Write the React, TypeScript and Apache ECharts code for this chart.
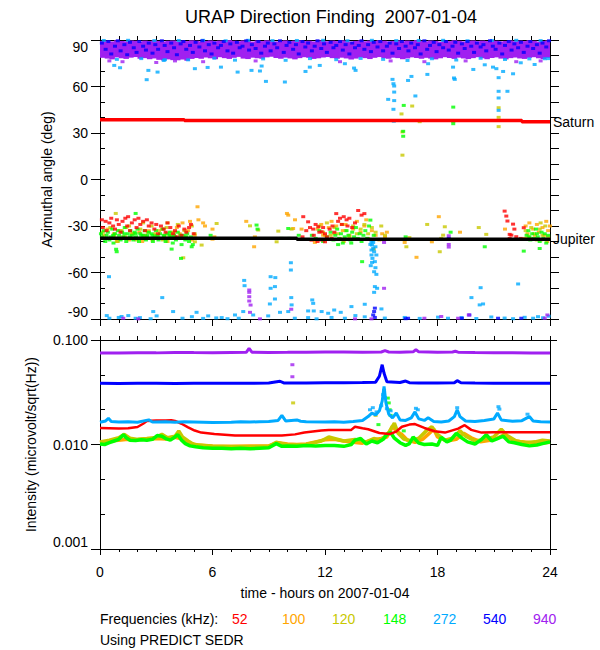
import React, { useEffect, useRef } from "react";
import * as echarts from "echarts";

const FONT = "Liberation Sans";
const TITLE = "URAP Direction Finding  2007-01-04";
const X_NAME = "time - hours on 2007-01-04";
const Y_TOP_NAME = "Azimuthal angle (deg)";
const Y_BOTTOM_NAME = "Intensity (microvolt/sqrt(Hz))";
const FREQ_LABELS = ["52", "100", "120", "148", "272", "540", "940"];
const FREQ_COLORS = ["#ff0000", "#ffa500", "#c8c800", "#00ff00", "#00aaff", "#0000ff", "#a020f0"];
const BAND_STEP = 0.25;

// ---- Direction finding: reference body lines [hour, deg]
const SATURN = [[0, 38.6], [4.5, 38.6], [4.5, 38.0], [22.5, 38.0], [22.5, 37.3], [24, 37.3]];
const JUPITER = [[0, -37.9], [10.5, -37.9], [10.5, -38.6], [24, -38.6]];

// ---- 940 kHz dense band: [hour, lower deg, upper deg]
const BAND_940 = [
  [0, 78.5, 89.3], [0.25, 78, 89.6], [0.5, 77.5, 89.1], [0.75, 78.8, 89.8], [1, 78.2, 89.4], [1.25, 77.8, 89.2],
  [1.5, 78.6, 89.7], [1.75, 79, 89.5], [2, 77.9, 89], [2.25, 78.3, 89.6], [2.5, 77.6, 89.3], [2.75, 78.1, 89.8],
  [3, 77.2, 89.4], [3.25, 76.8, 89.1], [3.5, 77.5, 89.5], [3.75, 77, 89.7], [4, 76.9, 89.2], [4.25, 77.4, 89.6],
  [4.5, 76.6, 89.3], [4.75, 77.8, 89.8], [5, 78.4, 89.5], [5.25, 77.9, 89.1], [5.5, 78.7, 89.4], [5.75, 78.2, 89.7],
  [6, 77.6, 89.2], [6.25, 78.9, 89.6], [6.5, 78.3, 89.3], [6.75, 77.8, 89.9], [7, 78.5, 89.5], [7.25, 79.1, 89.2],
  [7.5, 78, 89.7], [7.75, 77.7, 89.4], [8, 78.6, 89], [8.25, 78.2, 89.6], [8.5, 77.9, 89.3], [8.75, 78.8, 89.8],
  [9, 79.2, 89.5], [9.25, 78.4, 89.1], [9.5, 77.9, 89.4], [9.75, 78.6, 89.7], [10, 78.1, 89.2], [10.25, 77.5, 89.6],
  [10.5, 78.3, 89.8], [10.75, 78.9, 89.3], [11, 78.5, 89.5], [11.25, 77.8, 89.1], [11.5, 78.2, 89.7], [11.75, 78.7, 89.4],
  [12, 79, 89.2], [12.25, 78.3, 89.6], [12.5, 77.9, 89.3], [12.75, 78.6, 89.8], [13, 78.1, 89.5], [13.25, 77.4, 89],
  [13.5, 78, 89.4], [13.75, 78.8, 89.7], [14, 78.3, 89.2], [14.25, 77.7, 89.6], [14.5, 78.5, 89.3], [14.75, 79, 89.8],
  [15, 78.2, 89.5], [15.25, 77.9, 89.1], [15.5, 78.6, 89.4], [15.75, 78.3, 89.7], [16, 77.6, 89.2], [16.25, 78.1, 89.6],
  [16.5, 78.8, 89.3], [16.75, 78.4, 89.9], [17, 77.9, 89.5], [17.25, 78.5, 89.2], [17.5, 78, 89.7], [17.75, 77.5, 89.4],
  [18, 78.2, 89], [18.25, 78.9, 89.6], [18.5, 78.4, 89.3], [18.75, 77.8, 89.8], [19, 78.6, 89.5], [19.25, 78.1, 89.1],
  [19.5, 77.7, 89.4], [19.75, 78.3, 89.7], [20, 78.9, 89.2], [20.25, 78.2, 89.6], [20.5, 77.6, 89.3], [20.75, 78.4, 89.8],
  [21, 78.8, 89.5], [21.25, 78, 89.1], [21.5, 77.5, 89.4], [21.75, 78.3, 89.7], [22, 78.7, 89.2], [22.25, 78.1, 89.6],
  [22.5, 77.8, 89.3], [22.75, 78.5, 89.8], [23, 78.9, 89.5], [23.25, 78.2, 89], [23.5, 77.7, 89.4], [23.75, 78.4, 89.7],
];

// ---- 940 kHz outliers [hour, deg]
const DF_940 = [
  [0.5, 76.5], [1.2, 76], [3.0, 75.5], [4.0, 76.5], [5.5, 76], [8.3, 76.5], [12.8, 76], [15.5, 76.5], [17.3, 76],
  [19.5, 76.5], [22.2, 76], [23.5, 76.5],
  [7.96, -71.3], [7.96, -72.8], [7.96, -75.6], [7.96, -78.4], [8.03, -81], [8.0, -85.7],
  [1.24, -89.5], [2.04, -89.9], [8.53, -89.9], [10.2, -83.7], [15.15, -70.2], [15.15, -40.6], [18.6, -36.3],
  [18.6, -41.9], [18.6, -43.6], [19.67, -87.4], [18.2, -88.4], [14.48, -89.9], [23.72, -89.5], [23.86, -87.4],
  [19.1, -89.5], [17.3, -89.5], [13.6, -89.9],
];

// ---- 540 kHz [hour, deg]
const DF_540 = [
  [0.1, 88], [0.3, 84], [0.45, 89], [0.6, 81], [0.8, 86], [0.95, 89.5], [1.1, 83], [1.3, 87], [1.45, 80.5], [1.6, 88.5],
  [1.8, 85], [1.95, 82], [2.1, 89], [2.3, 86], [2.45, 83.5], [2.6, 88], [2.8, 81.5], [2.95, 87], [3.1, 84], [3.3, 89.5],
  [3.45, 86.5], [3.6, 82.5], [3.8, 88], [3.95, 85], [4.1, 80.5], [4.3, 87.5], [4.45, 89], [4.6, 84], [4.8, 86.5], [4.95, 82],
  [5.1, 88.5], [5.3, 85.5], [5.45, 89.5], [5.6, 83], [5.8, 87], [5.95, 81], [6.1, 88], [6.3, 85], [6.45, 86.5], [6.6, 89],
  [6.8, 83], [6.95, 87.5], [7.1, 81.5], [7.3, 88.5], [7.45, 85], [7.6, 86], [7.8, 89.5], [7.95, 83.5], [8.1, 87], [8.3, 84.5],
  [8.45, 89], [8.6, 81.5], [8.8, 86], [8.95, 88], [9.1, 83], [9.3, 87.5], [9.45, 85], [9.6, 89.5], [9.8, 82], [9.95, 86.5],
  [10.1, 88.5], [10.3, 84], [10.45, 87], [10.6, 81], [10.8, 89], [10.95, 85.5], [11.1, 88], [11.3, 83], [11.45, 86], [11.6, 89.5],
  [11.8, 84.5], [11.95, 87.5], [12.1, 82], [12.3, 88.5], [12.45, 85], [12.6, 86.5], [12.8, 89], [12.95, 83.5], [13.1, 87], [13.3, 81],
  [13.45, 88], [13.6, 85], [13.8, 86.5], [13.95, 89.5], [14.1, 84], [14.3, 87], [14.45, 82.5], [14.6, 88.5], [14.8, 85.5], [14.95, 89],
  [15.1, 83], [15.3, 86], [15.45, 88], [15.6, 81.5], [15.8, 87.5], [15.95, 84.5], [16.1, 89], [16.3, 86], [16.45, 83], [16.6, 88],
  [16.8, 85], [16.95, 87], [17.1, 81], [17.3, 89.5], [17.45, 84], [17.6, 86.5], [17.8, 88.5], [17.95, 82.5], [18.1, 87], [18.3, 85],
  [18.45, 89], [18.6, 83.5], [18.8, 86], [18.95, 88.5], [19.1, 81.5], [19.3, 87.5], [19.45, 84.5], [19.6, 89], [19.8, 86], [19.95, 82],
  [20.1, 88], [20.3, 85.5], [20.45, 87], [20.6, 83], [20.8, 89.5], [20.95, 86], [21.1, 84], [21.3, 88], [21.45, 81], [21.6, 86.5],
  [21.8, 89], [21.95, 83.5], [22.1, 87.5], [22.3, 85], [22.45, 88.5], [22.6, 82], [22.8, 86], [22.95, 89], [23.1, 84.5], [23.3, 87],
  [23.45, 81.5], [23.6, 88], [23.8, 85.5], [23.95, 89.5],
  [14.62, -85.2], [14.57, -87.4], [14.66, -89], [14.66, -83], [18.6, -38], [19.3, -89.5], [19.7, -87.4], [21.23, -89.5],
  [22.47, -89.5], [16.43, -89.5], [16.3, -89.8],
];

// ---- 272 kHz [hour, deg]
const DF_272 = [
  [0.2, 89.7], [0.9, 77.5], [1.5, 89.8], [2.2, 78], [2.9, 89.6], [3.4, 76.8], [4.2, 89.7], [4.7, 77.2], [5.5, 89.8], [6.1, 78.3],
  [6.7, 89.5], [7.2, 77], [7.9, 89.8], [8.7, 77.8], [9.2, 89.6], [9.9, 76.9], [10.5, 89.7], [11.2, 78], [11.9, 89.8], [12.6, 77.3],
  [13.2, 89.5], [13.9, 78.1], [14.5, 89.8], [15.1, 77.5], [15.8, 89.6], [16.4, 76.8], [17.0, 89.7], [17.7, 77.9], [18.3, 89.8],
  [19.0, 77.1], [19.6, 89.5], [20.3, 78.2], [20.9, 89.7], [21.6, 77.4], [22.2, 89.8], [22.9, 77.8], [23.5, 89.6], [23.9, 78],
  [0.76, 73.6], [1.07, 72.1], [2.49, 64.4], [3.07, 69.3], [2.58, 70.4], [3.46, 77.3], [5.06, 71.5], [5.74, 72.3], [6.45, 72.5],
  [7.34, 69.3], [8.08, 70.4], [8.62, 73.2], [8.53, 70.0], [8.85, 63.3], [9.86, 62.9], [10.96, 69.7], [11.19, 72.5], [11.72, 73.6],
  [13.06, 74.7], [13.55, 71.9], [13.63, 70.4], [15.6, 64.6], [15.65, 61.8], [15.69, 60.3], [15.69, 56.4], [15.37, 51.7],
  [15.69, 50.9], [15.65, 45.3], [15.67, 37.6], [16.43, 63.9], [16.61, 66.5], [16.82, 53.9], [17.46, 67.8], [17.5, 74.7],
  [18.83, 72.5], [18.88, 65.5], [18.92, 64.6], [19.91, 71.0], [20.52, 74.0], [20.96, 72.5], [21.14, 71.5], [21.26, 65.7],
  [21.26, 56.9], [21.26, 52.6], [21.26, 44.6], [21.5, 69.7], [21.73, 56.9], [22.03, 68.2], [22.44, 75.3], [23.18, 74.2], [23.72, 77.9],
  [0.48, -62.7], [3.32, -76.2], [7.69, -65.1], [7.71, -68.5], [9.1, -62.7], [9.1, -70.2], [9.35, -63.3], [9.33, -69.1],
  [9.33, -77.1], [9.06, -80.3], [10.18, -53.7], [10.18, -58.4], [10.2, -76.2], [10.22, -80.9], [11.32, -77.7], [11.37, -79.9],
  [11.1, -84.8], [11.4, -84.8], [11.82, -85.2], [2.84, -85.2], [3.9, -85.2], [1.51, -87.8], [0.36, -87.8], [1.15, -88.4],
  [2.13, -89.1], [3.02, -88], [5.15, -85.7], [5.77, -88], [6.49, -89.1], [7.2, -87.4], [7.64, -85.2], [8.17, -87.4],
  [8.97, -88], [9.6, -85.7], [10.04, -85.2], [10.39, -89.5], [11.1, -89.1], [11.55, -89.9], [0.5, -89.5], [1.0, -89],
  [1.9, -89.5], [2.7, -89.8], [4.4, -89.5], [4.9, -88.5], [5.5, -89.6], [6.2, -89.3], [6.8, -89.8], [7.4, -89.5],
  [14.48, -40.2], [14.51, -42.3], [14.57, -44.5], [14.62, -46.6], [14.48, -48.7], [14.53, -50.9], [14.66, -53], [14.44, -55.6],
  [14.69, -56.9], [14.62, -59.5], [14.74, -61.2], [14.66, -69.1], [14.62, -72.8], [14.78, -70.2], [14.42, -41.9], [14.57, -40.6],
  [14.69, -43.4], [14.48, -45.5], [14.74, -48.7], [14.51, -53.5],
  [22.3, -67.4], [20.3, -69.8], [19.81, -76.2], [20.25, -80.9], [20.43, -80.3], [15.01, -83.5], [14.12, -80.5], [13.41, -82],
  [12.84, -85.7], [13.62, -87.8], [12.49, -84.2], [12.17, -86.3],
  [12.35, -89], [13.06, -89.5], [14.12, -88.6], [15.19, -89.4], [16.25, -89], [17.05, -89.6], [18.03, -88.8], [18.56, -89.5],
  [19.28, -89.1], [20.07, -89.7], [20.87, -88.7], [21.58, -89.4], [22.03, -89.8], [22.65, -88.9], [23.1, -89.5], [23.36, -88.5],
  [23.63, -89.2], [23.93, -88.2],
];

// ---- 148 kHz [hour, deg]
const DF_148 = [
  [0.05, -35], [0.12, -38], [0.2, -33], [0.28, -40], [0.35, -36], [0.42, -34], [0.5, -39], [0.58, -37], [0.65, -32], [0.72, -41],
  [0.8, -35], [0.88, -38], [0.95, -33], [1.02, -36], [1.1, -39], [1.18, -34], [1.25, -37], [1.32, -31], [1.4, -40], [1.48, -35],
  [1.55, -38], [1.62, -33], [1.7, -36], [1.78, -39], [1.85, -34], [1.92, -37], [2.0, -32], [2.08, -40], [2.15, -35], [2.22, -38],
  [2.3, -36], [2.38, -33], [2.45, -39], [2.52, -36], [2.6, -34], [2.68, -38], [2.75, -35], [2.82, -40], [2.9, -37], [2.98, -33],
  [3.05, -36], [3.12, -39], [3.2, -35], [3.28, -38], [3.35, -32], [3.42, -37], [3.5, -40], [3.58, -35], [3.65, -38], [3.72, -34],
  [3.8, -37], [3.88, -41], [3.95, -36], [4.05, -39], [4.15, -34], [4.25, -38], [4.35, -42], [4.45, -36], [4.55, -39], [4.65, -35],
  [4.75, -40], [4.85, -37], [4.95, -42], [5.1, -38],
  [0.1, -37], [0.4, -38], [0.7, -36], [1.0, -38], [1.3, -35], [1.6, -37], [1.9, -35], [2.2, -36], [2.5, -37], [2.8, -36],
  [3.1, -37], [3.4, -36], [3.7, -36], [4.0, -37], [4.3, -36], [4.6, -37],
  [0.89, -46.6], [1.9, -21.9], [3.82, -44.9], [4.32, -50.9], [4.89, -43.4], [0.86, -45], [5.9, -36], [8.35, -29.4], [8.4, -32],
  [8.26, -38], [9.68, -38], [10.04, -31.6], [10.1, -38], [10.6, -36],
  [11.3, -36], [11.5, -38], [11.7, -33], [11.9, -40], [12.1, -37], [12.3, -34], [12.45, -39], [12.55, -36], [12.65, -32],
  [12.75, -38], [12.85, -35], [12.95, -41], [13.05, -37], [13.15, -33], [13.25, -36], [13.35, -39], [13.45, -34], [13.55, -37],
  [13.65, -31], [13.75, -38], [13.85, -35], [13.95, -40], [14.05, -36], [14.15, -33], [14.25, -38], [14.35, -30], [14.42, -26.2],
  [13.98, -53], [12.7, -42], [13.4, -41], [14.6, -36],
  [20.52, -43.4], [22.6, -46.2], [23.45, -44.5], [18.7, -34], [16.3, -37],
  [22.75, -36], [22.85, -33], [22.95, -39], [23.05, -35], [23.15, -38], [23.25, -32], [23.35, -37], [23.45, -40], [23.55, -34],
  [23.65, -38], [23.72, -35], [23.8, -41], [23.9, -36], [22.9, -37], [23.3, -35],
  [16.2, 47.8], [18.84, 46.7], [18.84, 37.6], [18.84, 36], [16.17, 31.1], [16.17, 27.9],
];

// ---- 120 kHz [hour, deg]
const DF_120 = [
  [0.15, -34], [0.35, -38], [0.55, -31], [0.75, -36], [0.95, -40], [1.15, -33], [1.35, -37], [1.55, -30], [1.75, -35], [1.95, -39],
  [2.15, -32], [2.35, -37], [2.55, -34], [2.75, -30], [2.95, -36], [3.15, -33], [3.35, -39], [3.55, -31], [3.75, -36], [3.95, -34],
  [4.15, -29], [4.3, -37], [4.5, -33], [4.7, -38], [4.9, -30], [5.05, -35], [3.6, -28], [2.3, -28],
  [0.84, -21.9], [4.44, -50.5], [5.42, -42.3], [5.06, -40.2], [6.22, -28.4], [8.0, -29.9], [8.44, -32.6], [9.51, -33.3],
  [9.42, -40.2], [10.22, -32], [14.6, -45],
  [11.7, -30], [11.9, -34], [12.1, -28], [12.3, -36], [12.5, -31], [12.7, -35], [12.9, -29], [13.1, -33], [13.3, -37], [13.5, -30],
  [13.7, -35], [13.9, -32], [14.1, -29], [14.3, -35], [14.5, -31], [14.7, -34], [15.0, -30], [15.2, -36],
  [17.45, -29], [18.39, -30.5], [18.3, -35.9], [18.2, -38], [18.12, -46.6], [20.6, -35.4], [16.34, -43.4], [16.5, -37.5], [20.2, -31],
  [22.7, -33], [22.85, -37], [23.0, -31], [23.15, -35], [23.3, -39], [23.45, -32], [23.6, -36], [23.75, -30], [23.9, -37], [23.5, -28],
  [16.08, 42.3], [16.65, 47.4], [17.05, 37.3], [16.13, 30.7], [16.13, 15.7], [21.26, 46.3], [21.26, 40.1], [21.26, 34.1],
];

// ---- 100 kHz [hour, deg]
const DF_100 = [
  [0.2, -36], [0.4, -32], [0.55, -38], [0.75, -35], [0.9, -40], [1.05, -33], [1.25, -37], [1.4, -31], [1.55, -39], [1.7, -35],
  [1.9, -38], [2.1, -34], [2.25, -40], [2.4, -36], [2.6, -33], [2.8, -39], [2.95, -35], [3.15, -38], [3.3, -32], [3.45, -36],
  [3.6, -40], [3.8, -34], [3.95, -37], [4.1, -31], [4.25, -35], [4.4, -28], [4.55, -37], [4.7, -33], [4.8, -27], [4.9, -39],
  [5.05, -36], [5.2, -17.6], [5.25, -26], [5.5, -28], [6.0, -32], [6.1, -37],
  [8.26, -37], [8.22, -43.4], [10.04, -23], [10.4, -26], [10.75, -32], [10.3, -31.6], [11.46, -40.6], [11.9, -35.9], [9.97, -21.9],
  [16.25, -40.6], [16.88, -50.2], [18.07, -24], [17.7, -40.2], [19.2, -34], [5.6, -30], [6.0, -38.5], [7.8, -27],
  [11.6, -32], [11.8, -29], [12.0, -36], [12.2, -31], [12.35, -27], [12.5, -35], [12.6, -30], [12.8, -38], [12.95, -33],
  [13.1, -29], [13.3, -36], [13.5, -32], [13.7, -27], [13.9, -34], [14.1, -30], [14.3, -38], [14.5, -33], [14.7, -36],
  [14.9, -39], [15.05, -35], [15.2, -37], [15.3, -34], [14.2, -26], [13.0, -40],
  [22.7, -30], [22.8, -35], [22.9, -28], [23.0, -38], [23.1, -32], [23.2, -36], [23.3, -29], [23.4, -34], [23.5, -39],
  [23.6, -31], [23.7, -36], [23.8, -27], [23.9, -33], [24.0, -30], [23.85, -40], [22.65, -38], [21.6, -32],
];

// ---- 52 kHz [hour, deg]
const DF_52 = [
  [0.1, -26], [0.15, -31], [0.3, -27], [0.35, -33], [0.5, -28], [0.6, -25], [0.7, -30], [0.8, -32], [0.9, -26], [1.0, -29],
  [1.1, -34], [1.2, -27], [1.35, -25], [1.45, -30], [1.5, -24], [1.6, -33], [1.7, -28], [1.85, -26], [1.95, -31], [2.05, -25],
  [2.15, -29], [2.3, -27], [2.4, -33], [2.5, -26], [2.6, -30], [2.75, -28], [2.9, -32], [3.0, -29], [3.1, -35], [3.25, -30],
  [3.4, -32], [3.5, -34], [3.6, -28], [3.75, -31], [3.9, -35], [4.0, -33], [4.1, -37], [4.2, -30], [4.35, -36], [4.5, -32],
  [4.6, -34], [4.75, -31], [4.85, -29], [5.0, -35],
  [10.84, -24], [11.1, -27.3], [11.37, -32], [11.64, -30.5], [11.82, -33.7], [12.0, -40.2], [11.28, -39.1],
  [11.0, -33], [11.2, -31], [11.4, -36], [11.5, -29], [11.7, -34], [11.8, -39], [11.9, -31], [12.0, -35], [12.1, -37],
  [12.25, -32], [12.4, -30], [12.5, -34], [12.6, -22], [12.7, -27], [12.8, -25], [12.9, -29], [13.0, -24], [13.15, -26],
  [13.3, -25], [13.45, -31], [13.6, -28], [13.77, -20], [13.95, -23], [14.1, -22], [13.2, -30], [12.35, -38], [11.6, -40], [10.8, -37],
  [21.58, -20.4], [21.67, -23.6], [21.73, -26.8], [22.03, -28.8], [21.85, -35.4], [21.94, -35.9], [22.2, -36.9], [22.44, -38],
  [22.6, -31.1], [21.85, -38], [22.1, -32],
];

// ---- Intensity (microvolt/sqrt(Hz)) [hour, value]
const INT_940 = [
  [0, 0.0752], [1, 0.075], [2, 0.0755], [3, 0.0753], [4, 0.076], [5, 0.0758], [6, 0.0757], [7, 0.076], [7.8, 0.0762],
  [7.95, 0.083], [8.1, 0.0765], [9, 0.076], [10, 0.0762], [11, 0.0765], [12, 0.0768], [13, 0.0767], [14, 0.0765],
  [15, 0.0768], [15.2, 0.079], [15.4, 0.0768], [16, 0.0765], [16.7, 0.077], [16.85, 0.081], [17, 0.077], [18, 0.0765],
  [18.8, 0.0768], [18.95, 0.078], [19.1, 0.0765], [20, 0.076], [21, 0.0757], [22, 0.0755], [23, 0.0752], [24, 0.075],
];
const INT_940_SPOTS = [[10.26, 0.058], [10.26, 0.0445]];
const INT_540 = [
  [0, 0.0385], [1, 0.0384], [2, 0.0386], [3, 0.0385], [4, 0.0384], [5, 0.0386], [6, 0.0385], [7, 0.0386], [8, 0.0385],
  [9, 0.0387], [9.6, 0.0403], [9.8, 0.0388], [11, 0.0387], [12, 0.0389], [13, 0.039], [14, 0.0392], [14.7, 0.0395],
  [14.9, 0.045], [15.05, 0.058], [15.15, 0.048], [15.3, 0.0398], [16, 0.0392], [16.3, 0.0405], [16.5, 0.039], [17, 0.0388],
  [18, 0.0387], [18.9, 0.039], [19.05, 0.0408], [19.25, 0.039], [20, 0.0387], [21, 0.0386], [22, 0.0386], [23, 0.0385], [24, 0.0385],
];
const INT_272 = [
  [0, 0.0163], [0.3, 0.0168], [0.45, 0.0178], [0.6, 0.0166], [1, 0.0164], [1.5, 0.0165], [2, 0.0163], [2.6, 0.0172],
  [2.8, 0.0164], [3.5, 0.0165], [4, 0.0163], [4.5, 0.0165], [5, 0.0164], [6, 0.0162], [7, 0.0163], [7.5, 0.0165], [8, 0.0164],
  [8.5, 0.0165], [9, 0.0166], [9.5, 0.017], [9.7, 0.019], [9.9, 0.0168], [10.5, 0.0172], [10.7, 0.0167], [11, 0.0165],
  [12, 0.0164], [12.5, 0.0165], [13, 0.0163], [13.5, 0.0166], [14, 0.017], [14.3, 0.0185], [14.5, 0.02], [14.7, 0.0192],
  [14.9, 0.021], [15.05, 0.026], [15.15, 0.036], [15.25, 0.025], [15.4, 0.0195], [15.6, 0.018], [15.8, 0.02], [16, 0.0172],
  [16.3, 0.017], [16.6, 0.018], [16.8, 0.0205], [17.0, 0.0176], [17.3, 0.017], [17.5, 0.018], [17.8, 0.0166], [18.2, 0.0164],
  [18.6, 0.0168], [18.9, 0.0185], [19.05, 0.0215], [19.2, 0.0185], [19.5, 0.0168], [20, 0.0166], [20.5, 0.017], [21.0, 0.0175],
  [21.2, 0.02], [21.4, 0.0172], [22, 0.0167], [22.5, 0.0169], [22.9, 0.0185], [23.1, 0.0168], [23.5, 0.0165], [24, 0.0164],
];
const INT_272_SPOTS = [
  [14.4, 0.0215], [14.55, 0.0225], [14.75, 0.0205], [15.0, 0.0235], [15.1, 0.03], [15.15, 0.033], [15.2, 0.028], [15.3, 0.022],
  [15.5, 0.021], [16.85, 0.0222], [16.95, 0.0215], [19.05, 0.0225], [21.25, 0.023], [21.3, 0.0218], [22.8, 0.0195],
];
const INT_52 = [
  [0, 0.0144], [0.5, 0.0143], [1, 0.0142], [1.5, 0.0143], [2.0, 0.0147], [2.3, 0.0158], [2.5, 0.0168], [3.0, 0.017],
  [3.5, 0.017], [3.8, 0.0171], [4.0, 0.0168], [4.35, 0.0158], [4.7, 0.0146], [5.05, 0.0136], [5.4, 0.013], [6.1, 0.0126],
  [7.2, 0.0122], [8.5, 0.0122], [9.7, 0.0122], [10.4, 0.0125], [10.9, 0.013], [11.8, 0.0136], [12.2, 0.0138], [13.4, 0.0138],
  [13.6, 0.0148], [14.0, 0.0143], [14.3, 0.014], [14.9, 0.0129], [15.45, 0.0126], [15.8, 0.0133], [16.1, 0.0148], [16.5, 0.0155],
  [16.8, 0.0157], [17.3, 0.0144], [17.85, 0.0134], [18.4, 0.013], [19.1, 0.0142], [19.45, 0.0153], [19.8, 0.0138], [20.35, 0.013],
  [21, 0.0131], [22, 0.0131], [23, 0.0131], [24, 0.0131],
];
const INT_148 = [
  [0, 0.0101], [0.25, 0.01], [0.5, 0.0104], [0.75, 0.0108], [1.0, 0.0112], [1.25, 0.0124], [1.4, 0.0116], [1.6, 0.011],
  [1.9, 0.0109], [2.2, 0.0111], [2.5, 0.011], [2.8, 0.0112], [3.05, 0.0122], [3.3, 0.012], [3.5, 0.0114], [3.75, 0.011],
  [4.0, 0.0118], [4.15, 0.0124], [4.35, 0.011], [4.55, 0.0102], [4.8, 0.0097], [5.1, 0.0095], [5.5, 0.0093], [6, 0.0092],
  [6.5, 0.0092], [7, 0.0091], [7.5, 0.0092], [8, 0.0091], [8.5, 0.0092], [9.0, 0.0093], [9.4, 0.0102], [9.7, 0.0096],
  [10, 0.0097], [10.5, 0.0096], [11, 0.0098], [11.5, 0.0097], [12, 0.0098], [12.5, 0.0098], [13, 0.0096], [13.4, 0.01],
  [13.6, 0.011], [13.9, 0.0114], [14.2, 0.0101], [14.5, 0.0108], [14.8, 0.0104], [15.1, 0.0112], [15.3, 0.0125], [15.5, 0.013],
  [15.7, 0.0115], [16.0, 0.0104], [16.3, 0.0098], [16.5, 0.0102], [16.7, 0.0118], [17.0, 0.0103], [17.3, 0.01], [17.7, 0.0101],
  [18.0, 0.0098], [18.2, 0.0117], [18.5, 0.0106], [18.7, 0.011], [19.0, 0.0128], [19.3, 0.0115], [19.6, 0.0106], [20.0, 0.0101],
  [20.3, 0.011], [20.6, 0.0124], [20.9, 0.0108], [21.2, 0.0114], [21.5, 0.012], [21.8, 0.0106], [22.1, 0.0104], [22.5, 0.01],
  [22.9, 0.0097], [23.3, 0.0099], [23.6, 0.0102], [24, 0.0106],
];
const INT_148_SPOTS = [[15.35, 0.0278], [15.4, 0.025], [15.45, 0.0215], [15.5, 0.019], [14.85, 0.0155], [16.2, 0.0135]];
const INT_120 = [
  [0, 0.0106], [0.5, 0.011], [1, 0.0116], [1.3, 0.0125], [1.6, 0.0115], [2, 0.0112], [2.5, 0.0114], [3, 0.0117], [3.3, 0.0125],
  [3.6, 0.0116], [4, 0.012], [4.2, 0.0135], [4.4, 0.0118], [4.7, 0.0108], [5, 0.01], [5.5, 0.0098], [6, 0.0096], [7, 0.0095],
  [8, 0.0095], [9, 0.0096], [9.4, 0.0105], [10, 0.0099], [11, 0.01], [11.8, 0.0108], [12.2, 0.0118], [12.6, 0.0113], [13, 0.0108],
  [13.6, 0.0112], [14.2, 0.0106], [14.6, 0.0114], [15.0, 0.011], [15.4, 0.013], [15.7, 0.016], [15.9, 0.0128], [16.2, 0.0113],
  [16.6, 0.0108], [17, 0.0115], [17.4, 0.0135], [17.7, 0.0148], [18, 0.0125], [18.4, 0.011], [18.8, 0.0115], [19.2, 0.0135],
  [19.5, 0.012], [20, 0.0108], [20.5, 0.0112], [21, 0.0118], [21.4, 0.014], [21.7, 0.0122], [22.2, 0.0108], [22.7, 0.0104],
  [23.2, 0.0106], [23.6, 0.011], [24, 0.0108],
];
const INT_120_SPOTS = [[10.3, 0.025], [14.7, 0.019]];
const INT_100 = [
  [0, 0.0104], [0.5, 0.0108], [1, 0.011], [1.5, 0.0112], [2, 0.0111], [2.5, 0.0113], [3, 0.0114], [3.5, 0.0113], [4, 0.0117],
  [4.4, 0.0113], [4.8, 0.0103], [5.2, 0.0099], [6, 0.0097], [7, 0.0096], [8, 0.0097], [9, 0.0097], [9.5, 0.0104], [10, 0.0101],
  [10.5, 0.01], [11, 0.0101], [11.5, 0.0106], [12, 0.0111], [12.5, 0.0112], [13, 0.0108], [13.5, 0.0105], [14, 0.0103],
  [14.5, 0.011], [15, 0.0114], [15.3, 0.0118], [15.6, 0.015], [15.8, 0.0135], [16.1, 0.0125], [16.4, 0.011], [16.8, 0.0105],
  [17.2, 0.0112], [17.5, 0.0125], [17.8, 0.014], [18.0, 0.0118], [18.5, 0.0108], [19, 0.0112], [19.4, 0.0128], [19.8, 0.0116],
  [20.3, 0.0106], [20.8, 0.011], [21.2, 0.0115], [21.6, 0.0125], [22, 0.011], [22.5, 0.0106], [23, 0.0104], [23.5, 0.0103], [24, 0.0105],
];

const C = {
  f52: FREQ_COLORS[0], f100: FREQ_COLORS[1], f120: FREQ_COLORS[2], f148: FREQ_COLORS[3],
  f272: FREQ_COLORS[4], f540: FREQ_COLORS[5], f940: FREQ_COLORS[6],
};

const txt = { color: "#000", fontFamily: FONT, fontSize: 14 };
const black = { color: "#000", width: 1 };

function dfScatter(data: number[][], color: string) {
  return {
    type: "scatter", xAxisIndex: 0, yAxisIndex: 0, data, symbol: "rect", symbolSize: [4, 3],
    itemStyle: { color }, silent: true, clip: true,
  };
}
function intLine(data: number[][], color: string, width: number) {
  return {
    type: "line", xAxisIndex: 3, yAxisIndex: 3, data, showSymbol: false, symbol: "none",
    lineStyle: { color, width }, silent: true, clip: true,
  };
}
function intSpots(data: number[][], color: string) {
  return {
    type: "scatter", xAxisIndex: 3, yAxisIndex: 3, data, symbol: "rect", symbolSize: [4, 3],
    itemStyle: { color }, silent: true,
  };
}

function buildOption() {
  const xBase = (gridIndex: number, position: string, interval: number, tickLen: number, extra: any = {}) => ({
    type: "value", gridIndex, position, min: 0, max: 24, interval,
    axisLine: { show: true, onZero: false, lineStyle: black },
    axisTick: { show: true, inside: false, length: tickLen, lineStyle: black },
    axisLabel: { show: false }, splitLine: { show: false }, ...extra,
  });
  const legendTexts: any[] = [
    { type: "text", left: 100, top: 612, style: { text: "Frequencies (kHz):", fill: "#000", font: `14px "${FONT}"` } },
    { type: "text", left: 100, top: 633, style: { text: "Using PREDICT SEDR", fill: "#000", font: `14px "${FONT}"` } },
  ];
  const freqX = [232, 282, 332, 383, 433, 483, 533];
  FREQ_LABELS.forEach((f, i) => {
    legendTexts.push({ type: "text", left: freqX[i], top: 612, style: { text: f, fill: FREQ_COLORS[i], font: `14px "${FONT}"` } });
  });

  return {
    animation: false,
    backgroundColor: "#fff",
    title: {
      text: TITLE, left: 326, top: 3, textAlign: "center",
      textStyle: { color: "#000", fontFamily: FONT, fontSize: 18, fontWeight: "normal" },
    },
    grid: [
      { left: 100, right: 50, top: 40, height: 279 },
      { left: 100, right: 50, top: 340, height: 209 },
    ],
    xAxis: [
      xBase(0, "bottom", 1, 4),
      xBase(0, "top", 1, 4),
      xBase(0, "bottom", 6, 7),
      xBase(1, "bottom", 6, 6, {
        axisLabel: { show: true, margin: 16, ...txt },
        name: X_NAME, nameLocation: "middle", nameGap: 37, nameTextStyle: txt,
      }),
      xBase(1, "bottom", 1, 3),
      xBase(1, "top", 1, 4),
    ],
    yAxis: [
      {
        type: "value", gridIndex: 0, position: "left", min: -90, max: 90, interval: 30,
        axisLine: { show: true, onZero: false, lineStyle: black },
        axisTick: { show: true, inside: false, length: 9, lineStyle: black },
        axisLabel: { show: true, margin: 12, ...txt, verticalAlignMaxLabel: "top", verticalAlignMinLabel: "bottom" },
        splitLine: { show: false },
        name: Y_TOP_NAME, nameLocation: "middle", nameGap: 46, nameTextStyle: txt,
      },
      {
        type: "value", gridIndex: 0, position: "left", min: -90, max: 90, interval: 10,
        axisLine: { show: false, onZero: false }, axisTick: { show: true, inside: true, length: 5, lineStyle: black },
        axisLabel: { show: false }, splitLine: { show: false },
      },
      {
        type: "value", gridIndex: 0, position: "right", min: -90, max: 90, interval: 10,
        axisLine: { show: true, onZero: false, lineStyle: black },
        axisTick: { show: true, inside: false, length: 9, lineStyle: black },
        axisLabel: { show: false }, splitLine: { show: false },
      },
      {
        type: "log", logBase: 10, gridIndex: 1, position: "left", min: 0.001, max: 0.1,
        axisLine: { show: true, onZero: false, lineStyle: black },
        axisTick: { show: true, inside: false, length: 9, lineStyle: black },
        axisLabel: {
          show: true, margin: 12, ...txt, formatter: (v: number) => Number(v).toFixed(3),
          verticalAlignMaxLabel: "top", verticalAlignMinLabel: "bottom",
        },
        splitLine: { show: false }, minorTick: { show: false },
        name: Y_BOTTOM_NAME, nameLocation: "middle", nameGap: 62, nameTextStyle: txt,
      },
      {
        type: "value", gridIndex: 1, position: "left", min: -3, max: -1, interval: 1 / 3,
        axisLine: { show: false, onZero: false }, axisTick: { show: true, inside: true, length: 5, lineStyle: black },
        axisLabel: { show: false }, splitLine: { show: false },
      },
      {
        type: "value", gridIndex: 1, position: "right", min: -3, max: -1, interval: 1 / 3,
        axisLine: { show: true, onZero: false, lineStyle: black },
        axisTick: { show: true, inside: false, length: 7, lineStyle: black },
        axisLabel: { show: false }, splitLine: { show: false },
      },
    ],
    graphic: legendTexts,
    series: [
      {
        type: "custom", xAxisIndex: 0, yAxisIndex: 0, clip: true, silent: true,
        encode: { x: 0, y: [1, 2] },
        data: BAND_940,
        renderItem: (_params: any, api: any) => {
          const t = api.value(0);
          const lo = api.value(1);
          const hi = api.value(2);
          const a = api.coord([t, hi]);
          const b = api.coord([t + BAND_STEP, lo]);
          return {
            type: "rect",
            shape: { x: a[0], y: a[1], width: b[0] - a[0] + 0.8, height: b[1] - a[1] },
            style: { fill: C.f940 },
          };
        },
      },
      {
        type: "line", xAxisIndex: 0, yAxisIndex: 0, data: SATURN, showSymbol: false, symbol: "none", silent: true,
        lineStyle: { color: "#ff0000", width: 3.5 },
        endLabel: { show: true, formatter: "Saturn", distance: 3, ...txt },
      },
      {
        type: "line", xAxisIndex: 0, yAxisIndex: 0, data: JUPITER, showSymbol: false, symbol: "none", silent: true,
        lineStyle: { color: "#000", width: 3.5 },
        endLabel: { show: true, formatter: "Jupiter", distance: 3, ...txt },
      },
      dfScatter(DF_100, C.f100),
      dfScatter(DF_120, C.f120),
      dfScatter(DF_148, C.f148),
      dfScatter(DF_52, C.f52),
      dfScatter(DF_272, C.f272),
      dfScatter(DF_540, C.f540),
      dfScatter(DF_940, C.f940),

      intLine(INT_100, C.f100, 3.5),
      intLine(INT_120, C.f120, 3.5),
      intLine(INT_148, C.f148, 3.5),
      intSpots(INT_148_SPOTS, C.f148),
      intSpots(INT_120_SPOTS, C.f120),
      intLine(INT_52, C.f52, 2.5),
      intLine(INT_272, C.f272, 3),
      intSpots(INT_272_SPOTS, C.f272),
      intLine(INT_540, C.f540, 3),
      intLine(INT_940, C.f940, 3),
      intSpots(INT_940_SPOTS, C.f940),
    ],
  };
}

export default function App() {
  const ref = useRef<HTMLDivElement>(null);
  useEffect(() => {
    if (!ref.current) return;
    const chart = echarts.init(ref.current, undefined, { renderer: "svg" });
    chart.setOption(buildOption() as any);
    return () => chart.dispose();
  }, []);
  return (
    <div
      ref={ref}
      style={{ position: "absolute", left: 0, top: 0, width: 600, height: 650, background: "#fff" }}
    />
  );
}
